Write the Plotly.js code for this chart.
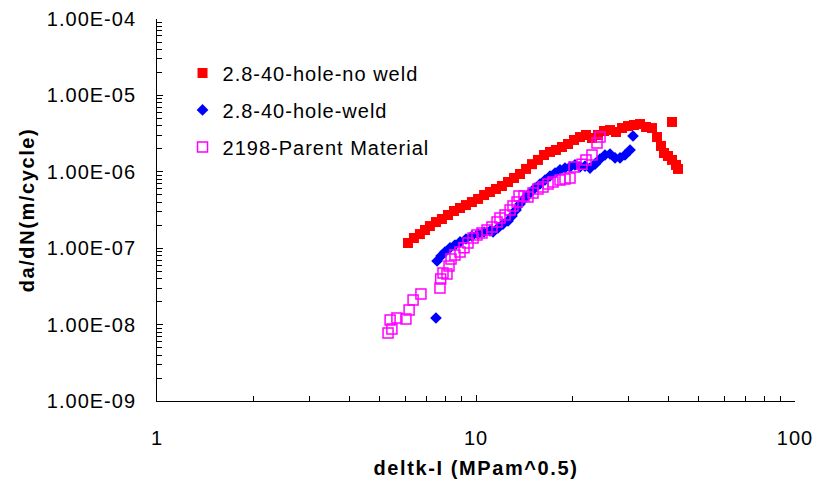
<!DOCTYPE html>
<html>
<head>
<meta charset="utf-8">
<script src="https://cdn.plot.ly/plotly-3.0.1.min.js"></script>
<style>
  html, body { margin: 0; padding: 0; background: #fff; }
  #chart { width: 817px; height: 491px; }
  .xtick text, .ytick text, .legendtext { letter-spacing: 1px; }
  .g-xtitle text, .g-ytitle text { letter-spacing: 1.6px; }
</style>
</head>
<body>
<div id="chart"></div>
<script>
// Series: 2.8-40-hole-no weld
const noWeldK = [6.12, 6.39, 6.67, 6.92, 7.17, 7.49, 7.82, 8.17, 8.53, 8.91, 9.30, 9.71, 10.15, 10.60, 11.06, 11.55, 12.06, 12.60, 13.16, 13.74, 14.35, 14.98, 15.64, 16.34, 17.06, 17.81, 18.60, 19.43, 20.29, 21.18, 22.12, 23.10, 24.12, 25.19, 26.31, 27.47, 28.69, 29.96, 31.28, 32.67, 34.12, 35.62, 36.94, 38.02, 38.85, 39.99, 41.16, 42.36, 42.98, 41.16];
const noWeldRate = [1.17e-7, 1.36e-7, 1.53e-7, 1.73e-7, 1.95e-7, 2.20e-7, 2.41e-7, 2.72e-7, 3.07e-7, 3.36e-7, 3.67e-7, 4.02e-7, 4.41e-7, 4.97e-7, 5.44e-7, 5.96e-7, 6.52e-7, 7.35e-7, 8.30e-7, 9.36e-7, 1.09e-6, 1.26e-6, 1.43e-6, 1.66e-6, 1.82e-6, 1.93e-6, 2.11e-6, 2.31e-6, 2.61e-6, 2.85e-6, 3.03e-6, 2.77e-6, 3.03e-6, 3.42e-6, 3.52e-6, 3.32e-6, 3.74e-6, 3.97e-6, 4.10e-6, 4.22e-6, 3.86e-6, 3.74e-6, 2.85e-6, 2.18e-6, 1.76e-6, 1.61e-6, 1.43e-6, 1.23e-6, 1.09e-6, 4.49e-6];

// Series: 2.8-40-hole-weld
const weldK = [7.49, 7.55, 7.77, 7.99, 8.29, 8.59, 8.91, 9.30, 9.71, 10.15, 10.60, 11.06, 11.31, 11.72, 12.15, 12.60, 12.97, 13.35, 13.74, 14.24, 14.77, 15.31, 15.87, 16.46, 17.06, 17.69, 18.34, 19.01, 19.71, 20.43, 21.18, 21.97, 22.77, 23.61, 24.48, 25.37, 26.31, 27.28, 28.28, 29.32, 30.40, 31.06];
const weldRate = [1.22e-8, 6.80e-8, 7.90e-8, 8.91e-8, 1.01e-7, 1.10e-7, 1.21e-7, 1.32e-7, 1.44e-7, 1.53e-7, 1.63e-7, 1.68e-7, 1.63e-7, 1.84e-7, 2.07e-7, 2.27e-7, 2.64e-7, 3.16e-7, 3.79e-7, 4.54e-7, 5.28e-7, 6.14e-7, 6.92e-7, 7.81e-7, 8.81e-7, 9.64e-7, 1.06e-6, 1.12e-6, 1.16e-6, 1.23e-6, 1.16e-6, 1.19e-6, 1.12e-6, 1.26e-6, 1.47e-6, 1.66e-6, 1.71e-6, 1.52e-6, 1.52e-6, 1.66e-6, 1.93e-6, 2.94e-6];

// Series: 2198-Parent Material
const parentK = [5.30, 5.45, 5.38, 5.65, 6.03, 6.17, 6.35, 6.72, 7.71, 7.75, 7.88, 8.11, 8.23, 8.35, 8.59, 8.91, 9.17, 9.44, 9.79, 10.07, 10.44, 10.83, 11.22, 11.64, 11.89, 12.33, 12.79, 13.06, 13.45, 13.64, 14.14, 14.55, 15.09, 15.64, 16.22, 16.82, 17.43, 18.34, 19.01, 19.71, 20.29, 21.49, 22.12, 23.10, 23.95, 24.48];
const parentRate = [7.76e-9, 8.75e-9, 1.15e-8, 1.22e-8, 1.18e-8, 1.55e-8, 2.10e-8, 2.52e-8, 3.01e-8, 3.95e-8, 4.73e-8, 4.59e-8, 5.85e-8, 7.23e-8, 8.15e-8, 8.91e-8, 1.01e-7, 1.17e-7, 1.36e-7, 1.49e-7, 1.58e-7, 1.73e-7, 1.89e-7, 2.20e-7, 2.48e-7, 2.72e-7, 3.16e-7, 3.56e-7, 4.02e-7, 4.82e-7, 4.82e-7, 4.68e-7, 5.28e-7, 5.96e-7, 6.32e-7, 6.92e-7, 7.35e-7, 7.81e-7, 8.05e-7, 8.30e-7, 1.16e-6, 1.26e-6, 1.43e-6, 1.66e-6, 2.38e-6, 2.85e-6];

const seriesNames = ["2.8-40-hole-no weld", "2.8-40-hole-weld", "2198-Parent Material"];
const yTickVals = [1e-9, 1e-8, 1e-7, 1e-6, 1e-5, 1e-4];
const yTickText = ["1.00E-09", "1.00E-08", "1.00E-07", "1.00E-06", "1.00E-05", "1.00E-04"];
const xTickVals = [1, 10, 100];
const xTickText = ["1", "10", "100"];

const FONT = "Arial, 'Liberation Sans', sans-serif";

const traces = [
  { x: noWeldK, y: noWeldRate, name: seriesNames[0], type: "scatter", mode: "markers", legendgroup: "a",
    marker: { symbol: "square", size: 10, color: "#FF0000" } },
  { x: weldK, y: weldRate, name: seriesNames[1], type: "scatter", mode: "markers", legendgroup: "b",
    marker: { symbol: "diamond", size: 9, color: "#0000FF" } },
  { x: parentK, y: parentRate, name: seriesNames[2], type: "scatter", mode: "markers", legendgroup: "c",
    marker: { symbol: "square-open", size: 10, color: "#FF00FF", line: { width: 1.5, color: "#FF00FF" } } }
];

const layout = {
  width: 817, height: 491,
  margin: { l: 157, r: 22, t: 19, b: 90, pad: 0 },
  paper_bgcolor: "#ffffff", plot_bgcolor: "#ffffff",
  font: { family: FONT, size: 20, color: "#000000" },
  showlegend: true,
  legend: { x: 0.04, y: 0.91, xanchor: "left", yanchor: "top", bgcolor: "rgba(0,0,0,0)",
            font: { family: FONT, size: 20, color: "#000" }, tracegroupgap: 8 },
  xaxis: {
    type: "log", range: [0, 2], autorange: false,
    tickvals: xTickVals, ticktext: xTickText,
    ticks: "inside", ticklen: 6, tickcolor: "#000", tickwidth: 1,
    minor: { ticks: "inside", ticklen: 5, tickcolor: "#000", dtick: "D1", showgrid: false },
    showline: true, linecolor: "#000", linewidth: 1, mirror: false,
    showgrid: false, zeroline: false,
    ticklabelstandoff: 19,
    tickfont: { family: FONT, size: 20 },
    title: { text: "deltk-I (MPam^0.5)", font: { family: FONT, size: 20, weight: "bold" }, standoff: 12 }
  },
  yaxis: {
    type: "log", range: [-9, -4], autorange: false,
    tickvals: yTickVals, ticktext: yTickText,
    ticks: "inside", ticklen: 6, tickcolor: "#000", tickwidth: 1,
    minor: { ticks: "inside", ticklen: 5, tickcolor: "#000", dtick: "D1", showgrid: false },
    showline: true, linecolor: "#000", linewidth: 1, mirror: false,
    showgrid: false, zeroline: false,
    ticklabelstandoff: 16,
    tickfont: { family: FONT, size: 20 },
    title: { text: "da/dN(m/cycle)", font: { family: FONT, size: 20, weight: "bold" }, standoff: 6 }
  }
};

Plotly.newPlot("chart", traces, layout, { staticPlot: true, displayModeBar: false });
</script>
</body>
</html>
